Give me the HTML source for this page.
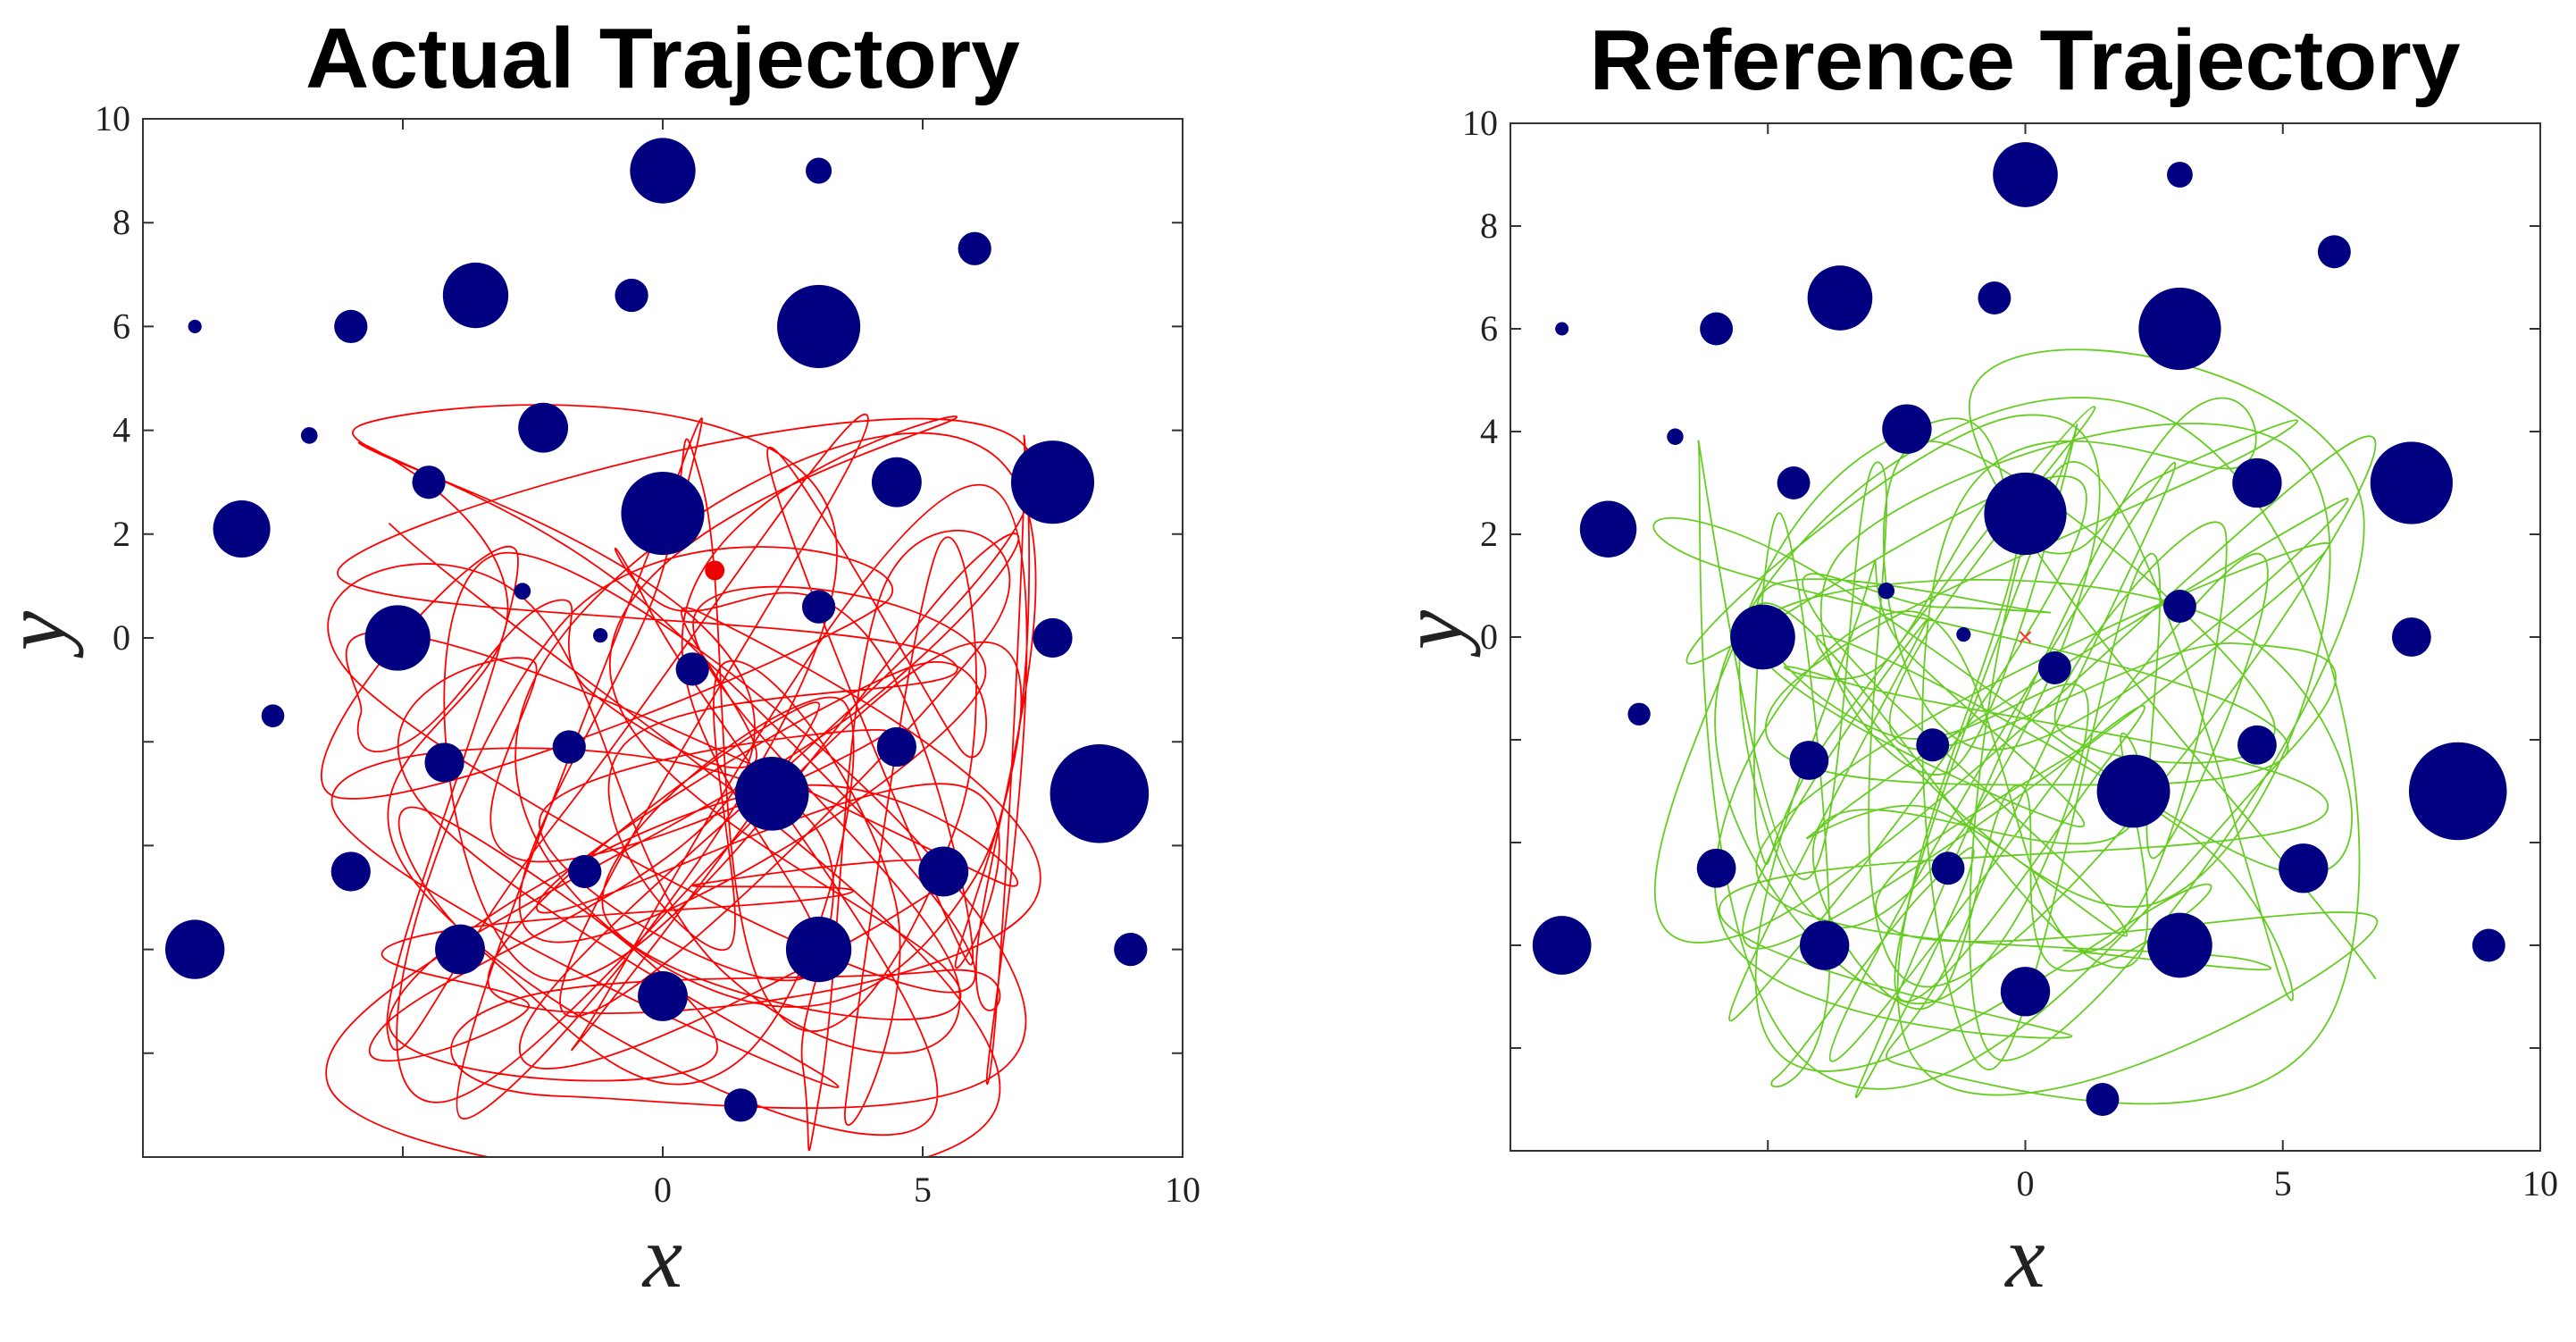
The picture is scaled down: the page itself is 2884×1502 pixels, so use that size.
<!DOCTYPE html>
<html><head><meta charset="utf-8"><style>
html,body{margin:0;padding:0;background:#fff;}
svg{display:block;}
</style></head><body>
<svg id="s" xmlns="http://www.w3.org/2000/svg" width="2884" height="1502" viewBox="0 0 2884 1502">
<defs>
<clipPath id="cl"><rect x="160" y="133" width="1164" height="1162"/></clipPath>
<clipPath id="cr"><rect x="1691" y="138" width="1153" height="1150"/></clipPath>
</defs>
<rect width="2884" height="1502" fill="#fff"/>
<text x="742" y="98" font-family="Liberation Sans, Arial, sans-serif" font-weight="bold" font-size="96" text-anchor="middle" textLength="800" lengthAdjust="spacingAndGlyphs">Actual Trajectory</text>
<text x="2267" y="100" font-family="Liberation Sans, Arial, sans-serif" font-weight="bold" font-size="96" text-anchor="middle" textLength="975" lengthAdjust="spacingAndGlyphs">Reference Trajectory</text>
<g id="left"></g>
<g id="right"></g>
</svg>
<script>
var NS="http://www.w3.org/2000/svg";
var circles=[[0,9,.63],[3,9,.25],[6,7.5,.32],[-3.6,6.6,.63],[-0.6,6.6,.32],[-6,6,.32],[-9,6,.13],[3,6,.8],[-2.3,4.05,.48],[-6.8,3.9,.16],[-4.5,3,.32],[4.5,3,.48],[7.5,3,.8],[-8.1,2.1,.55],[0,2.4,.8],[-2.7,.9,.16],[3,.6,.32],[-1.2,.05,.14],[-5.1,0,.63],[7.5,0,.38],[.57,-.6,.32],[-7.5,-1.5,.22],[-4.2,-2.4,.38],[-1.8,-2.1,.32],[4.5,-2.1,.38],[2.1,-3,.71],[8.4,-3,.95],[-6,-4.5,.38],[-1.5,-4.5,.32],[5.4,-4.5,.48],[-9,-6,.57],[-3.9,-6,.48],[3,-6,.63],[9,-6,.32],[0,-6.9,.48],[1.5,-9,.32]];
function el(t,a,p){var e=document.createElementNS(NS,t);for(var k in a)e.setAttribute(k,a[k]);if(p)p.appendChild(e);return e;}
function rng(seed){var s=seed;return function(){s=(s*16807)%2147483647;return (s-1)/2147483646;};}
function plot(g,x0,y0,x1,y1,clip,color,seed,marker,ylabX){
  var cx=(x0+x1)/2,cy=(y0+y1)/2,sx=(x1-x0)/20,sy=(y1-y0)/20;
  function X(x){return cx+x*sx;} function Y(y){return cy-y*sy;}
  var r=rng(seed),pts=[];
  for(var i=0;i<115;i++){pts.push([X(-6.6+r()*13.8),Y(-9.3+r()*13.8)]);}
  var d="M"+pts[0][0]+","+pts[0][1];
  for(var i=0;i<pts.length-1;i++){
    var p0=pts[Math.max(0,i-1)],p1=pts[i],p2=pts[i+1],p3=pts[Math.min(pts.length-1,i+2)];
    var t=0.25;
    d+=" C"+(p1[0]+(p2[0]-p0[0])*t)+","+(p1[1]+(p2[1]-p0[1])*t)+" "+(p2[0]-(p3[0]-p1[0])*t)+","+(p2[1]-(p3[1]-p1[1])*t)+" "+p2[0]+","+p2[1];
  }
  var cg=el("g",{"clip-path":"url(#"+clip+")"},g);
  el("path",{d:d,fill:"none",stroke:color,"stroke-width":1.8},cg);
  circles.forEach(function(c){el("circle",{cx:X(c[0]),cy:Y(c[1]),r:c[2]*sx,fill:"#000080"},cg);});
  if(marker=="dot")el("circle",{cx:X(1),cy:Y(1.3),r:11,fill:"#ee0000"},cg);
  else{el("path",{d:"M"+(X(0)-6)+","+(Y(0)-6)+"l12,12M"+(X(0)+6)+","+(Y(0)-6)+"l-12,12",stroke:"#ff3333","stroke-width":2},cg);}
  el("rect",{x:x0,y:y0,width:x1-x0,height:y1-y0,fill:"none",stroke:"#333","stroke-width":2},g);
  var tk="";
  for(var v=-10;v<=10;v+=2){var yy=Y(v);tk+="M"+x0+","+yy+"h12M"+x1+","+yy+"h-12";}
  for(var v=-10;v<=10;v+=5){var xx=X(v);tk+="M"+xx+","+y0+"v12M"+xx+","+y1+"v-12";}
  el("path",{d:tk,stroke:"#333","stroke-width":2,fill:"none"},g);
  var f="Liberation Serif, DejaVu Serif, serif";
  [10,8,6,4,2,0].forEach(function(v){var t=el("text",{x:x0-14,y:Y(v)+13,"font-family":f,"font-size":40,"text-anchor":"end",fill:"#222"},g);t.textContent=v;});
  [0,5,10].forEach(function(v){var t=el("text",{x:X(v),y:y1+50,"font-family":f,"font-size":40,"text-anchor":"middle",fill:"#222"},g);t.textContent=v;});
  var t=el("text",{x:cx,y:1440,"font-family":f,"font-style":"italic","font-size":100,"text-anchor":"middle",fill:"#222"},g);t.textContent="x";
  var t2=el("text",{x:0,y:0,"font-family":f,"font-style":"italic","font-size":100,"text-anchor":"middle",fill:"#222",transform:"translate("+ylabX+","+(cy-8)+") rotate(-90)"},g);t2.textContent="y";
}
plot(document.getElementById("left"),160,133,1324,1295,"cl","#ff0000",12345,"dot",72);
plot(document.getElementById("right"),1691,138,2844,1288,"cr","#66cc22",67891,"x",1636);
</script>
</body></html>
